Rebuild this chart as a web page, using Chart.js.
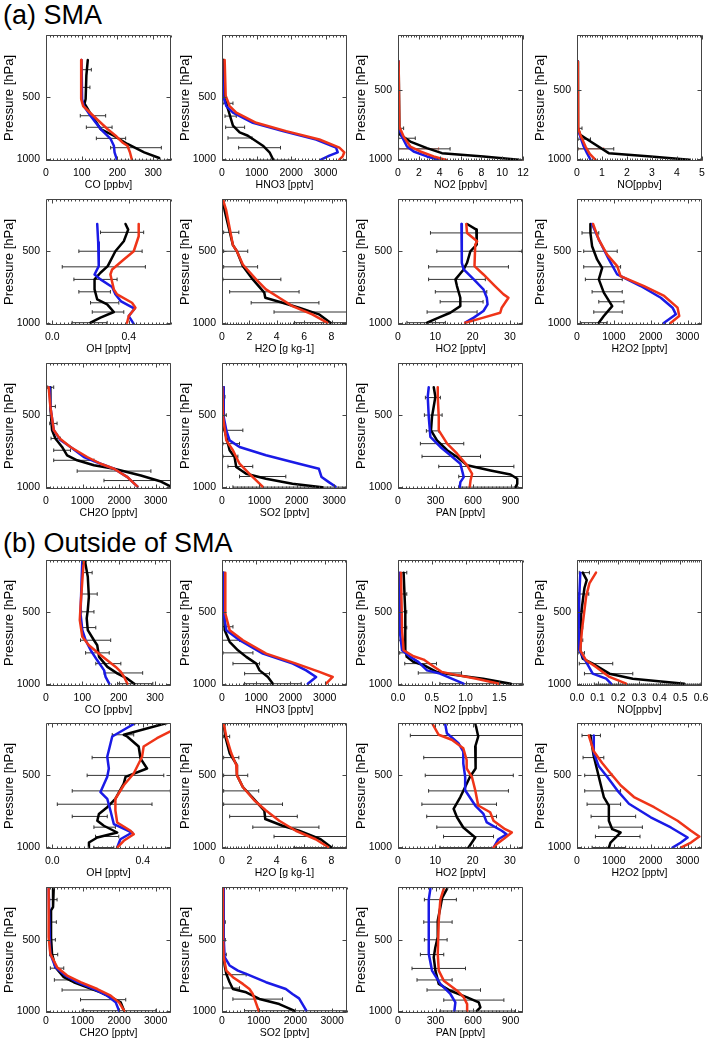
<!DOCTYPE html>
<html lang="en">
<head>
<meta charset="UTF-8">
<title>Vertical profiles: SMA and outside of SMA</title>
<script src="https://cdn.jsdelivr.net/npm/chart.js"></script>
<style>
  body { margin: 0; width: 709px; height: 1041px; background: #fff; position: relative; overflow: hidden;
         font-family: "Liberation Sans", Arial, Helvetica, sans-serif; }
  .hdr { position: absolute; left: 3px; font-size: 27px; line-height: 27px; color: #000; white-space: nowrap; }
  canvas { position: absolute; }
</style>
</head>
<body>
<div class="hdr" style="top:2px">(a) SMA</div>
<div class="hdr" style="top:530px">(b) Outside of SMA</div>

<script>
// ---- data: [value, pressure hPa] for lines, [pressure, low, high] for error bars
// obs = black (observed), m1 = blue, m2 = red

// (a) SMA
const aCO_obs = [[117,201],[113,327],[111,515],[108,551],[125,635],[153,756],[190,810],[228,876],[275,943],[317,989]];
const aCO_m1  = [[99.5,201],[101,515],[106,571],[125,651],[153,756],[181,836],[190,890],[192,943],[198,997]];
const aCO_m2  = [[99.5,201],[98.5,515],[104,571],[130,643],[172,756],[195,810],[214,864],[228,890],[235,943],[240,997]];
const aCO_err = [[279,101,127],[421,101,123],[649,96,167],[742,113,185],[831,141,223],[906,181,323],[1007,181,350]];

const aHNO3_obs = [[29,201],[48,488],[173,595],[317,729],[510,783],[750,810],[1183,890],[1375,943],[1471,997]];
const aHNO3_m1  = [[0,201],[29,488],[125,571],[317,625],[894,706],[1760,773],[2721,840],[3298,906],[3346,943],[3106,970],[2865,1002]];
const aHNO3_m2  = [[77,201],[106,488],[221,571],[413,625],[990,706],[1856,773],[2817,840],[3394,906],[3538,943],[3490,975],[3394,1002]];
const aHNO3_err = [[549,29,317],[652,87,413],[742,106,654],[828,173,866],[906,481,1692],[1005,798,2125]];

const aNO2_obs = [[0.06,292],[0.13,764],[0.22,824],[1.18,872],[2.78,920],[4.22,956],[8.22,980],[11.58,1004]];
const aNO2_m1  = [[0.06,292],[0.06,764],[0.38,836],[0.86,908],[1.5,944],[2.78,980],[3.9,1004]];
const aNO2_m2  = [[0.06,292],[0.13,764],[0.54,836],[1.18,908],[2.14,944],[3.42,980],[4.7,1008]];
const aNO2_err = [[776,0.16,0.54],[848,0.06,1.66],[925,0.06,5.0]];
const aNO2_rng = [[925,0,3.9],[1010,0,12]];

const aNO_obs = [[0.04,292],[0.04,776],[0.13,824],[0.54,872],[1.27,956],[2.95,980],[4.49,1004]];
const aNO_m1  = [[0.03,292],[0.03,776],[0.13,836],[0.27,908],[0.4,956],[0.54,1004]];
const aNO_m2  = [[0.03,292],[0.05,776],[0.16,836],[0.34,908],[0.51,961],[0.74,1004]];
const aNO_err = [[776,0.04,0.2],[855,0.04,0.54],[925,0.04,1.47]];
const aNO_rng = [[925,0,1.07],[1010,0,5]];

const aOH_obs = [[0.383,313],[0.397,352],[0.374,433],[0.33,502],[0.29,605],[0.252,651],[0.221,697],[0.221,766],[0.235,836],[0.287,870],[0.322,923],[0.252,962],[0.2,997]];
const aOH_m1  = [[0.235,313],[0.24,440],[0.243,605],[0.221,663],[0.252,697],[0.313,750],[0.33,800],[0.36,850],[0.43,900],[0.4,951],[0.426,1005]];
const aOH_m2  = [[0.452,313],[0.452,398],[0.426,502],[0.374,559],[0.313,628],[0.304,663],[0.322,766],[0.339,801],[0.417,859],[0.435,893],[0.4,951],[0.391,997]];
const aOH_err = [[371,0.252,0.478],[502,0.139,0.47],[610,0.052,0.487],[697,0.113,0.339],[783,0.139,0.304],[859,0.2,0.348],[923,0.209,0.374],[997,0.104,0.287]];

const aH2O_obs = [[0.07,145],[0.19,219],[0.8,460],[1.09,502],[1.52,605],[2.25,697],[3.09,789],[3.16,824],[4.42,859],[5.63,893],[7.08,939],[7.92,997]];
const aH2O_m2  = [[0.07,145],[0.31,219],[0.8,460],[1.09,502],[1.52,594],[2.49,697],[3.21,766],[4.18,824],[5.14,882],[6.59,939],[7.68,997]];
const aH2O_err = [[371,0.12,1.23],[502,0.12,1.88],[610,0.12,2.6],[697,0.07,4.3],[783,0.56,5.63],[859,2.13,7.08],[923,3.8,9.13],[997,5.3,9.13]];

const aHO2_obs = [[18.5,313],[21,352],[21.1,456],[19.4,502],[18.5,582],[17.6,628],[15.4,697],[15.8,743],[16.7,824],[16.7,882],[14,928],[10.9,962],[7.8,997]];
const aHO2_m1  = [[17,313],[17.1,467],[17.1,582],[17.6,628],[20.3,697],[22.9,766],[23.8,824],[24,870],[22.9,916],[20.3,962],[18,997]];
const aHO2_m2  = [[18.3,313],[18.5,375],[21.2,433],[20.7,456],[20.5,605],[22.9,663],[26,743],[28.3,801],[29.6,824],[27.8,893],[27.4,928],[22.9,962],[18,997]];
const aHO2_err = [[375,8.7,33.5],[502,10.4,33.2],[610,8.2,29.6],[697,8.2,23.4],[783,10,23.8],[852,11.3,22.8],[923,7.8,21.2],[997,2.4,12.7]];

const aH2O2_obs = [[364,313],[364,375],[409,467],[545,559],[682,617],[591,697],[727,789],[955,882],[727,951],[591,997]];
const aH2O2_m1  = [[409,313],[591,421],[864,559],[1091,663],[1727,743],[2273,824],[2591,893],[2682,939],[2364,997]];
const aH2O2_m2  = [[436,313],[591,421],[818,525],[1091,605],[1182,674],[1818,743],[2364,812],[2727,893],[2773,951],[2545,997]];
const aH2O2_err = [[375,136,591],[502,182,1091],[610,182,1182],[697,227,1227],[783,409,1227],[852,591,1273],[923,455,1227],[997,91,818]];

const aCH2O_obs = [[119,304],[119,438],[165,602],[257,661],[440,720],[578,778],[853,813],[1312,848],[1862,872],[2596,919],[3147,961],[3422,996]];
const aCH2O_m1  = [[101,304],[119,438],[211,602],[394,672],[670,720],[1037,790],[1495,837],[1862,872],[2229,930],[2505,996]];
const aCH2O_m2  = [[73,304],[119,438],[211,602],[376,661],[670,720],[1128,790],[1495,837],[1862,872],[2229,930],[2505,996]];
const aCH2O_err = [[304,46,211],[438,119,257],[556,101,303],[661,138,394],[743,211,670],[813,211,1312],[888,853,2872],[954,1587,3422]];

const aSO2_obs = [[27,304],[44,510],[44,580],[115,650],[204,743],[336,790],[381,860],[646,907],[1177,942],[1885,977],[2681,1000]];
const aSO2_m1  = [[27,304],[44,510],[115,604],[204,674],[469,720],[1177,778],[2062,837],[2593,872],[2664,930],[2858,965],[3035,996]];
const aSO2_m2  = [[9,304],[27,510],[115,674],[292,743],[469,837],[735,907],[1088,996]];
const aSO2_err = [[370,9,80],[498,9,115],[604,9,558],[697,27,469],[786,27,425],[856,159,823],[926,469,1708],[1000,292,3345]];

const aPAN_obs = [[286,304],[299,370],[272,510],[264,604],[312,674],[393,743],[473,790],[553,848],[740,884],[900,912],[954,942],[954,977],[940,1000]];
const aPAN_m1  = [[246,304],[238,370],[246,510],[259,650],[339,720],[419,778],[499,837],[526,930],[499,965],[494,1000]];
const aPAN_m2  = [[318,304],[318,370],[326,510],[326,604],[393,697],[473,767],[553,848],[593,907],[580,954],[574,1000]];
const aPAN_err = [[376,219,339],[498,211,353],[608,227,326],[697,179,526],[786,192,660],[856,326,927],[926,486,1000],[1000,486,954]];

// (b) Outside of SMA
const bCO_obs = [[107,140],[115,252],[118,391],[115,484],[112,542],[115,624],[132,694],[141,729],[146,810],[169,880],[197,927],[224,962],[243,997]];
const bCO_m1  = [[100,140],[98,275],[95,508],[100,624],[109,694],[123,764],[141,834],[160,904],[164,950],[174,997]];
const bCO_m2  = [[104,140],[100,275],[95,461],[93,554],[100,670],[118,729],[151,799],[192,880],[206,915],[215,950],[224,997]];
const bCO_err = [[223,100,127],[372,98,141],[496,98,132],[606,98,137],[694,95,178],[782,109,174],[857,137,206],[922,160,266],[997,197,294]];

const bHNO3_obs = [[49,223],[78,624],[223,705],[466,764],[709,810],[1000,857],[1097,904],[1340,950],[1485,997]];
const bHNO3_m1  = [[49,223],[49,508],[126,624],[515,694],[1194,787],[2068,857],[2456,904],[2748,950],[2505,997]];
const bHNO3_m2  = [[97,223],[97,508],[223,624],[612,694],[1291,787],[2165,857],[2845,915],[3233,950],[3039,997]];
const bHNO3_err = [[600,10,320],[694,10,515],[782,29,903],[857,320,1097],[927,660,1388],[997,660,2311]];

const bNO2_obs = [[0.083,223],[0.108,508],[0.108,764],[0.13,810],[0.23,845],[0.38,868],[0.57,915],[0.77,932],[1.26,962],[1.67,997]];
const bNO2_m1  = [[0.025,223],[0.025,624],[0.06,764],[0.18,810],[0.3,845],[0.43,904],[0.62,927],[0.97,997]];
const bNO2_m2  = [[0.044,223],[0.06,624],[0.083,764],[0.23,806],[0.38,829],[0.5,868],[0.65,915],[0.82,932],[1.16,962],[1.5,997]];
const bNO2_err = [[223,0,0.13],[372,0,0.13],[496,0,0.13],[606,0.01,0.13],[694,0.01,0.11],[782,0.025,0.13],[857,0.1,0.57],[922,0.3,0.94],[997,0.62,1.84]];

const bNO_obs = [[0.028,223],[0.047,275],[0.036,330],[0.02,508],[0.016,764],[0.028,822],[0.076,857],[0.157,927],[0.27,962],[0.52,997]];
const bNO_m1  = [[0.016,223],[0.011,391],[0.008,624],[0.011,764],[0.044,845],[0.076,927],[0.141,962],[0.165,997]];
const bNO_m2  = [[0.092,223],[0.06,298],[0.044,391],[0.024,624],[0.016,764],[0.044,834],[0.092,880],[0.157,950],[0.238,997]];
const bNO_err = [[223,0.011,0.06],[372,0.008,0.057],[496,0.005,0.028],[606,0.005,0.028],[694,0.005,0.028],[782,0.005,0.036],[857,0.011,0.173],[927,0.036,0.27],[1001,0.084,0.6]];

const bOH_obs = [[0.507,135],[0.316,217],[0.331,229],[0.382,299],[0.39,381],[0.419,452],[0.324,510],[0.316,557],[0.279,663],[0.243,722],[0.206,769],[0.199,816],[0.228,851],[0.287,898],[0.199,933],[0.162,968],[0.162,1003]];
const bOH_m1  = [[0.368,135],[0.265,229],[0.243,370],[0.25,452],[0.243,510],[0.213,616],[0.243,663],[0.257,745],[0.272,839],[0.353,898],[0.301,945],[0.287,1003]];
const bOH_m2  = [[0.522,194],[0.463,241],[0.404,299],[0.397,370],[0.36,487],[0.316,569],[0.279,663],[0.279,745],[0.287,828],[0.346,886],[0.36,910],[0.316,956],[0.287,1003]];
const bOH_err = [[217,0.265,0.36],[376,0.176,0.525],[500,0.154,0.493],[608,0.088,0.522],[701,0.022,0.441],[786,0.088,0.243],[861,0.184,0.279],[926,0.191,0.294],[1003,0.184,0.272]];

const bH2O_obs = [[0.12,135],[0.24,229],[0.56,346],[1.09,428],[1.09,498],[1.52,581],[2.2,651],[3.09,745],[3.16,804],[4.42,851],[5.63,886],[7.2,945],[8,1003]];
const bH2O_m2  = [[0.12,135],[0.31,229],[0.68,346],[1.04,428],[1.09,498],[1.52,581],[2.37,675],[3.21,745],[4.18,816],[5.39,886],[6.84,945],[7.8,1003]];
const bH2O_err = [[229,0.12,0.56],[376,0.12,1.23],[500,0.12,1.88],[608,0.12,2.68],[701,0.12,4.42],[786,0.56,5.5],[861,2.25,7.08],[926,3.8,9.13],[1003,5.3,9.13]];

const bHO2_obs = [[20.7,135],[21.5,229],[20.7,299],[20.9,393],[20.7,452],[19.3,510],[18,581],[16.7,651],[14.9,733],[15.8,792],[17.5,863],[20.7,933],[19.8,968],[18.9,1003]];
const bHO2_m1  = [[12.6,135],[13.1,206],[16.2,276],[17.5,334],[17.5,417],[18,510],[18,604],[20.7,710],[22.9,769],[23.8,828],[27.8,886],[29.1,910],[26.9,945],[25.6,1003]];
const bHO2_m2  = [[9.1,135],[10.9,217],[14.4,252],[17.5,311],[18.4,393],[18.4,452],[19.8,510],[20.7,604],[21.5,710],[24.7,757],[25.6,816],[28.7,875],[30.5,898],[28.2,945],[26.4,980],[25.6,1003]];
const bHO2_err = [[222,3.3,33.4],[376,6.9,33.4],[500,7.3,30.9],[608,8.2,29.6],[701,6.4,26.4],[786,7.7,26.4],[861,10.4,26.4],[926,12.2,25.6],[1003,11.3,26.4]];

const bH2O2_obs = [[364,222],[455,367],[545,461],[636,557],[727,651],[864,710],[864,816],[955,875],[1182,898],[1045,933],[909,968],[864,1003]];
const bH2O2_m1  = [[455,222],[455,343],[591,437],[818,510],[1091,604],[1409,698],[2000,792],[2545,863],[3000,933],[2818,968],[2591,1003]];
const bH2O2_m2  = [[318,222],[455,332],[682,414],[909,485],[1182,569],[1545,651],[2091,722],[2727,816],[3091,886],[3318,926],[3091,968],[2818,1003]];
const bH2O2_err = [[222,136,636],[376,164,727],[500,209,955],[608,209,1182],[701,273,1182],[786,382,1591],[861,591,1773],[926,500,1709],[1003,409,1318]];

const bCH2O_obs = [[211,137],[193,266],[138,290],[138,478],[165,596],[257,690],[486,761],[761,796],[1128,832],[1495,867],[1862,914],[2046,938],[2138,997]];
const bCH2O_m1  = [[73,137],[101,478],[119,596],[257,690],[532,749],[853,796],[1312,844],[1679,891],[1908,938],[2000,997]];
const bCH2O_m2  = [[73,137],[73,478],[119,596],[303,690],[578,749],[945,796],[1404,844],[1771,891],[2000,938],[2138,997]];
const bCH2O_err = [[214,101,303],[372,73,284],[497,73,257],[601,101,321],[697,119,486],[780,229,670],[851,440,1404],[919,945,2183],[997,991,3009]];

const bSO2_obs = [[45,137],[45,478],[45,619],[72,678],[117,737],[207,796],[297,844],[658,867],[1018,914],[1559,950],[1964,997]];
const bSO2_m1  = [[45,137],[45,478],[72,619],[207,678],[432,714],[658,737],[1198,796],[1739,844],[1919,879],[2099,910],[2297,997]];
const bSO2_m2  = [[27,137],[27,478],[45,619],[117,714],[297,761],[568,808],[748,844],[838,879],[920,938],[1000,997]];
const bSO2_err = [[372,9,90],[497,9,90],[601,9,117],[743,9,658],[837,27,477],[915,297,1649],[997,613,3405]];

const bPAN_obs = [[393,137],[353,202],[334,290],[318,361],[318,478],[299,549],[286,620],[299,714],[326,808],[419,856],[553,903],[646,938],[659,973],[633,997]];
const bPAN_m1  = [[259,137],[246,214],[246,361],[246,596],[272,714],[339,808],[419,879],[459,938],[451,997]];
const bPAN_m2  = [[366,137],[339,214],[326,361],[318,596],[326,714],[366,785],[473,856],[526,903],[553,950],[553,997]];
const bPAN_err = [[214,211,467],[372,206,433],[497,211,393],[601,179,366],[699,112,540],[780,152,433],[851,232,660],[922,366,847],[999,339,940]];

// axis ranges [min, max, minor step] and tick labels
const xCO = [0, 350, 10],       tCO = [0, 100, 200, 300];
const xHNO3 = [0, 3615, 100],   tHNO3 = [0, 1000, 2000, 3000];
const xNO2a = [0, 12, 0.25],    tNO2a = [0, 2, 4, 6, 8, 10, 12];
const xNOa = [0, 5, 0.1],       tNOa = [0, 1, 2, 3, 4, 5];
const xOHa = [-0.033, 0.621, 0.02], tOH = [0, 0.4];
const xH2O = [0, 9.13, 0.2],    tH2O = [0, 2, 4, 6, 8];
const xHO2 = [0, 33.5, 1],      tHO2 = [0, 10, 20, 30];
const xH2O2 = [0, 3390, 100],   tK = [0, 1000, 2000, 3000];
const xCH2O = [0, 3422, 100];
const xSO2a = [0, 3345, 100];
const xPAN = [0, 1000, 30],     tPAN = [0, 300, 600, 900];
const xCOb = [0, 344, 10];
const xHNO3b = [0, 3650, 100];
const xNO2b = [0, 1.85, 0.05],  tNO2b = [0, 0.5, 1.0, 1.5];
const xNOb = [0, 0.605, 0.01],  tNOb = [0, 0.1, 0.2, 0.3, 0.4, 0.5, 0.6];
const xOHb = [-0.028, 0.525, 0.02];
const xSO2b = [0, 3405, 100];
const yTicks = [500, 1000];
const yR = [[0, 1013], [100, 1013], [140, 1013], [135, 1013], [125, 1013]];

// ---- layout
const COL_LEFT = [46, 222, 398, 577];
const ROW_TOP = [35, 199, 363, 560, 723, 887];
const PW = 125, PH = 126;
const AXW = 46, PADT = 16, PADR = 18, XAXH = 34;
const FONT = '"Liberation Sans", Arial, Helvetica, sans-serif';

const PANELS = [
  {c:0, r:0, t:'CO [ppbv]',    x:xCO,    xt:tCO,   y:yR[0], d:0, obs:aCO_obs,   m1:aCO_m1,   m2:aCO_m2,   err:aCO_err},
  {c:1, r:0, t:'HNO3 [pptv]',  x:xHNO3,  xt:tHNO3, y:yR[0], d:0, obs:aHNO3_obs, m1:aHNO3_m1, m2:aHNO3_m2, err:aHNO3_err},
  {c:2, r:0, t:'NO2 [ppbv]',   x:xNO2a,  xt:tNO2a, y:yR[1], d:0, obs:aNO2_obs,  m1:aNO2_m1,  m2:aNO2_m2,  err:aNO2_err, rng:aNO2_rng},
  {c:3, r:0, t:'NO[ppbv]',     x:xNOa,   xt:tNOa,  y:yR[1], d:0, obs:aNO_obs,   m1:aNO_m1,   m2:aNO_m2,   err:aNO_err, rng:aNO_rng},
  {c:0, r:1, t:'OH [pptv]',    x:xOHa,   xt:tOH,   y:yR[2], d:1, obs:aOH_obs,   m1:aOH_m1,   m2:aOH_m2,   err:aOH_err},
  {c:1, r:1, t:'H2O [g kg-1]', x:xH2O,   xt:tH2O,  y:yR[2], d:0, obs:aH2O_obs,  m1:null,     m2:aH2O_m2,  err:aH2O_err},
  {c:2, r:1, t:'HO2 [pptv]',   x:xHO2,   xt:tHO2,  y:yR[2], d:0, obs:aHO2_obs,  m1:aHO2_m1,  m2:aHO2_m2,  err:aHO2_err},
  {c:3, r:1, t:'H2O2 [pptv]',  x:xH2O2,  xt:tK,    y:yR[2], d:0, obs:aH2O2_obs, m1:aH2O2_m1, m2:aH2O2_m2, err:aH2O2_err},
  {c:0, r:2, t:'CH2O [pptv]',  x:xCH2O,  xt:tK,    y:yR[3], d:0, obs:aCH2O_obs, m1:aCH2O_m1, m2:aCH2O_m2, err:aCH2O_err},
  {c:1, r:2, t:'SO2 [pptv]',   x:xSO2a,  xt:tK,    y:yR[3], d:0, obs:aSO2_obs,  m1:aSO2_m1,  m2:aSO2_m2,  err:aSO2_err},
  {c:2, r:2, t:'PAN [pptv]',   x:xPAN,   xt:tPAN,  y:yR[3], d:0, obs:aPAN_obs,  m1:aPAN_m1,  m2:aPAN_m2,  err:aPAN_err},

  {c:0, r:3, t:'CO [ppbv]',    x:xCOb,   xt:tCO,   y:yR[3], d:0, obs:bCO_obs,   m1:bCO_m1,   m2:bCO_m2,   err:bCO_err},
  {c:1, r:3, t:'HNO3 [pptv]',  x:xHNO3b, xt:tHNO3, y:yR[3], d:0, obs:bHNO3_obs, m1:bHNO3_m1, m2:bHNO3_m2, err:bHNO3_err},
  {c:2, r:3, t:'NO2 [ppbv]',   x:xNO2b,  xt:tNO2b, y:yR[3], d:1, obs:bNO2_obs,  m1:bNO2_m1,  m2:bNO2_m2,  err:bNO2_err},
  {c:3, r:3, t:'NO[ppbv]',     x:xNOb,   xt:tNOb,  y:yR[3], d:1, obs:bNO_obs,   m1:bNO_m1,   m2:bNO_m2,   err:bNO_err},
  {c:0, r:4, t:'OH [pptv]',    x:xOHb,   xt:tOH,   y:yR[3], d:1, obs:bOH_obs,   m1:bOH_m1,   m2:bOH_m2,   err:bOH_err},
  {c:1, r:4, t:'H2O [g kg-1]', x:xH2O,   xt:tH2O,  y:yR[3], d:0, obs:bH2O_obs,  m1:null,     m2:bH2O_m2,  err:bH2O_err},
  {c:2, r:4, t:'HO2 [pptv]',   x:xHO2,   xt:tHO2,  y:yR[3], d:0, obs:bHO2_obs,  m1:bHO2_m1,  m2:bHO2_m2,  err:bHO2_err},
  {c:3, r:4, t:'H2O2 [pptv]',  x:xH2O2,  xt:tK,    y:yR[3], d:0, obs:bH2O2_obs, m1:bH2O2_m1, m2:bH2O2_m2, err:bH2O2_err},
  {c:0, r:5, t:'CH2O [pptv]',  x:xCH2O,  xt:tK,    y:yR[4], d:0, obs:bCH2O_obs, m1:bCH2O_m1, m2:bCH2O_m2, err:bCH2O_err},
  {c:1, r:5, t:'SO2 [pptv]',   x:xSO2b,  xt:tK,    y:yR[4], d:0, obs:bSO2_obs,  m1:bSO2_m1,  m2:bSO2_m2,  err:bSO2_err},
  {c:2, r:5, t:'PAN [pptv]',   x:xPAN,   xt:tPAN,  y:yR[4], d:0, obs:bPAN_obs,  m1:bPAN_m1,  m2:bPAN_m2,  err:bPAN_err}
];

Chart.defaults.font.family = FONT;
Chart.defaults.color = '#000';

function pts(arr) { return arr.map(d => ({x: d[0], y: d[1]})); }
function barPts(arr) {
  const out = [];
  arr.forEach(e => { out.push({x: e[1], y: e[0]}, {x: e[2], y: e[0]}, {x: NaN, y: NaN}); });
  return out;
}

// box frame with inward ticks, IDL style
const framePlugin = {
  id: 'frame',
  afterDatasetsDraw(chart, args, opts) {
    const {ctx, chartArea: a} = chart;
    const x = chart.scales.x, y = chart.scales.y;
    const L = Math.round(a.left) + 0.5, R = Math.round(a.right) - 0.5;
    const T = Math.round(a.top) + 0.5, B = Math.round(a.bottom) - 0.5;
    ctx.save();
    ctx.strokeStyle = '#444';
    ctx.lineWidth = 1;
    ctx.beginPath();
    ctx.rect(L, T, R - L, B - T);
    const st = opts.minor;
    const n0 = Math.ceil(x.min / st - 1e-6), n1 = Math.floor(x.max / st + 1e-6);
    for (let i = n0; i <= n1; i++) {
      const px = Math.round(x.getPixelForValue(i * st)) + 0.5;
      ctx.moveTo(px, B); ctx.lineTo(px, B - 2);
      ctx.moveTo(px, T); ctx.lineTo(px, T + 2);
    }
    x.ticks.forEach(t => {
      const px = Math.round(x.getPixelForValue(t.value)) + 0.5;
      ctx.moveTo(px, B); ctx.lineTo(px, B - 4);
      ctx.moveTo(px, T); ctx.lineTo(px, T + 4);
    });
    y.ticks.forEach(t => {
      const py = Math.round(y.getPixelForValue(t.value)) + 0.5;
      ctx.moveTo(L, py); ctx.lineTo(L + 4, py);
      ctx.moveTo(R, py); ctx.lineTo(R - 4, py);
    });
    ctx.stroke();
    ctx.restore();
  }
};

function lineSet(data, color) {
  return {data: pts(data), showLine: true, borderColor: color, borderWidth: 2.5,
          borderJoinStyle: 'round', borderCapStyle: 'round', pointRadius: 0, tension: 0};
}
function barSet(data, color) {
  return {data: barPts(data), showLine: true, borderColor: color, borderWidth: 1,
          pointStyle: 'line', pointRotation: 90, pointRadius: 1.8,
          pointBorderColor: color, pointBorderWidth: 1, pointBackgroundColor: color};
}

function makePanel(p) {
  const cv = document.createElement('canvas');
  cv.width = AXW + PW + PADR;
  cv.height = PADT + PH + XAXH;
  cv.style.left = (COL_LEFT[p.c] - AXW) + 'px';
  cv.style.top = (ROW_TOP[p.r] - PADT) + 'px';
  cv.style.width = cv.width + 'px';
  cv.style.height = cv.height + 'px';
  document.body.appendChild(cv);

  // the last row sits closer to the bottom edge of the page
  const lastRow = p.r === 5;

  // index 0 is drawn on top
  const ds = [lineSet(p.m2, '#ef3418')];
  if (p.m1) ds.push(lineSet(p.m1, '#1a1ae6'));
  ds.push(lineSet(p.obs, '#000000'));
  ds.push(barSet(p.err, '#333333'));
  if (p.rng) ds.push(barSet(p.rng, '#f08070'));

  new Chart(cv, {
    type: 'scatter',
    data: {datasets: ds},
    options: {
      responsive: false,
      animation: false,
      events: [],
      layout: {padding: {top: PADT, right: PADR, left: 0, bottom: 0}},
      plugins: {legend: {display: false}, tooltip: {enabled: false}, frame: {minor: p.x[2]}},
      scales: {
        x: {
          type: 'linear', min: p.x[0], max: p.x[1],
          afterBuildTicks: s => { s.ticks = p.xt.map(v => ({value: v})); },
          afterFit: s => { s.height = XAXH; },
          grid: {display: false, drawTicks: false},
          border: {display: false},
          ticks: {padding: lastRow ? 2 : 6, maxRotation: 0, autoSkip: false, color: '#000', font: {size: 10.5},
                  callback: v => Number(v).toFixed(p.d)},
          title: {display: true, text: p.t, color: '#000', font: {size: 10.5},
                  padding: {top: 0, bottom: lastRow ? 8 : 4}}
        },
        y: {
          type: 'linear', reverse: true, min: p.y[0], max: p.y[1],
          afterBuildTicks: s => { s.ticks = yTicks.map(v => ({value: v})); },
          afterFit: s => { s.width = AXW; },
          grid: {display: false, drawTicks: false},
          border: {display: false},
          ticks: {padding: 6, color: '#000', font: {size: 10.5}, callback: v => String(v)},
          title: {display: true, text: 'Pressure [hPa]', color: '#000', font: {size: 13}, padding: {top: 1.5, bottom: 0}}
        }
      }
    },
    plugins: [framePlugin]
  });
}

PANELS.forEach(makePanel);
</script>
</body>
</html>
